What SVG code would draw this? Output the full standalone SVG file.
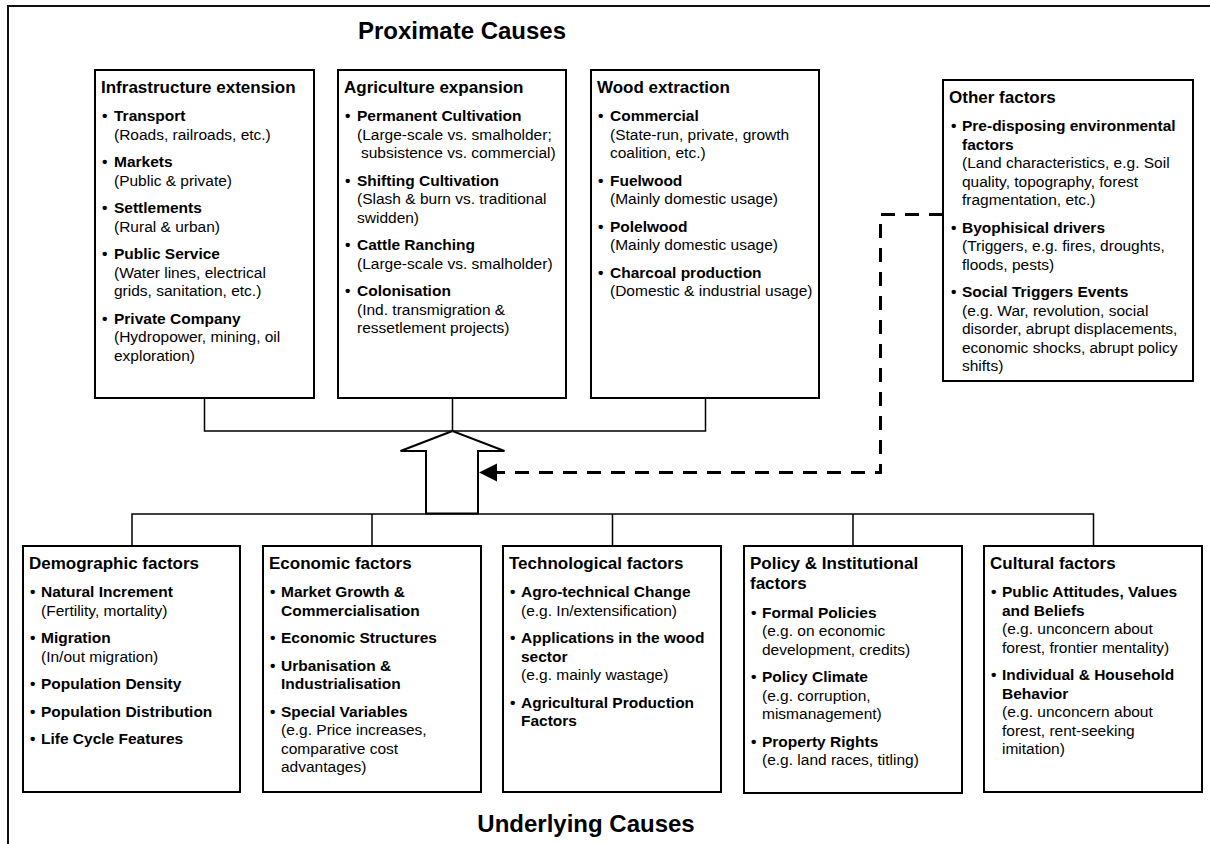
<svg xmlns="http://www.w3.org/2000/svg" width="1210" height="844" viewBox="0 0 1210 844">
<style>
text{font-family:"Liberation Sans",Arial,sans-serif;fill:#000}
.h{font-size:24px;font-weight:bold;text-anchor:middle}
.t{font-size:17px;font-weight:bold}
.b{font-size:15.5px;font-weight:bold}
.r{font-size:15.5px}
.box{fill:#fff;stroke:#000;stroke-width:2}
.ln{fill:none;stroke:#000;stroke-width:1.5}
.frame{fill:none;stroke:#111;stroke-width:2}
.dash{fill:none;stroke:#000;stroke-width:3;stroke-dasharray:14 10}
</style>
<rect width="1210" height="844" fill="#fff"/>
<g id="frame">
<path class="frame" d="M8 844 V6 H1210"/>
</g>
<g id="titles">
<text class="h" x="462" y="39">Proximate Causes</text>
<text class="h" x="586" y="832">Underlying Causes</text>
</g>
<g id="connectors">
<path class="ln" d="M204.5 398 V431 H705.5 V398 M452.5 398 V431"/>
<path class="ln" d="M132 546 V514 H1093.5 V546 M372 514 V546 M612.5 514 V546 M853 514 V546"/>
<polygon points="452.5,431 400.5,451 426,451 426,513.5 478,513.5 478,451 504.5,451" fill="#fff" stroke="#000" stroke-width="2"/>
<path class="dash" d="M943 214.5 H880.5 V472.5 H497"/>
<polygon points="479,472.5 497,463.5 497,481.5" fill="#000"/>
</g>
<g id="infrastructure">
<rect class="box" x="95" y="70" width="219" height="328"/>
<text class="t" x="101" y="93">Infrastructure extension</text>
<text class="b" x="102" y="121">•</text><text class="b" x="114" y="121">Transport</text>
<text class="r" x="114" y="139.5">(Roads, railroads, etc.)</text>
<text class="b" x="102" y="167">•</text><text class="b" x="114" y="167">Markets</text>
<text class="r" x="114" y="185.5">(Public &amp; private)</text>
<text class="b" x="102" y="213">•</text><text class="b" x="114" y="213">Settlements</text>
<text class="r" x="114" y="231.5">(Rural &amp; urban)</text>
<text class="b" x="102" y="259">•</text><text class="b" x="114" y="259">Public Service</text>
<text class="r" x="114" y="277.5">(Water lines, electrical</text>
<text class="r" x="114" y="296">grids, sanitation, etc.)</text>
<text class="b" x="102" y="323.5">•</text><text class="b" x="114" y="323.5">Private Company</text>
<text class="r" x="114" y="342">(Hydropower, mining, oil</text>
<text class="r" x="114" y="360.5">exploration)</text>
</g>
<g id="agriculture">
<rect class="box" x="338" y="70" width="228" height="328"/>
<text class="t" x="344" y="93">Agriculture expansion</text>
<text class="b" x="345" y="121">•</text><text class="b" x="357" y="121">Permanent Cultivation</text>
<text class="r" x="357" y="139.5">(Large-scale vs. smalholder;</text>
<text class="r" x="361" y="158">subsistence vs. commercial)</text>
<text class="b" x="345" y="185.5">•</text><text class="b" x="357" y="185.5">Shifting Cultivation</text>
<text class="r" x="357" y="204">(Slash &amp; burn vs. traditional</text>
<text class="r" x="357" y="222.5">swidden)</text>
<text class="b" x="345" y="250">•</text><text class="b" x="357" y="250">Cattle Ranching</text>
<text class="r" x="357" y="268.5">(Large-scale vs. smalholder)</text>
<text class="b" x="345" y="296">•</text><text class="b" x="357" y="296">Colonisation</text>
<text class="r" x="357" y="314.5">(Ind. transmigration &amp;</text>
<text class="r" x="357" y="333">ressetlement projects)</text>
</g>
<g id="wood">
<rect class="box" x="591" y="70" width="228" height="328"/>
<text class="t" x="597" y="93">Wood extraction</text>
<text class="b" x="598" y="121">•</text><text class="b" x="610" y="121">Commercial</text>
<text class="r" x="610" y="139.5">(State-run, private, growth</text>
<text class="r" x="610" y="158">coalition, etc.)</text>
<text class="b" x="598" y="185.5">•</text><text class="b" x="610" y="185.5">Fuelwood</text>
<text class="r" x="610" y="204">(Mainly domestic usage)</text>
<text class="b" x="598" y="231.5">•</text><text class="b" x="610" y="231.5">Polelwood</text>
<text class="r" x="610" y="250">(Mainly domestic usage)</text>
<text class="b" x="598" y="277.5">•</text><text class="b" x="610" y="277.5">Charcoal production</text>
<text class="r" x="610" y="296">(Domestic &amp; industrial usage)</text>
</g>
<g id="other">
<rect class="box" x="943" y="80" width="250" height="301"/>
<text class="t" x="949" y="103">Other factors</text>
<text class="b" x="951" y="131">•</text><text class="b" x="962" y="131">Pre-disposing environmental</text>
<text class="b" x="962" y="149.5">factors</text>
<text class="r" x="962" y="168">(Land characteristics, e.g. Soil</text>
<text class="r" x="962" y="186.5">quality, topography, forest</text>
<text class="r" x="962" y="205">fragmentation, etc.)</text>
<text class="b" x="951" y="232.5">•</text><text class="b" x="962" y="232.5">Byophisical drivers</text>
<text class="r" x="962" y="251">(Triggers, e.g. fires, droughts,</text>
<text class="r" x="962" y="269.5">floods, pests)</text>
<text class="b" x="951" y="297">•</text><text class="b" x="962" y="297">Social Triggers Events</text>
<text class="r" x="962" y="315.5">(e.g. War, revolution, social</text>
<text class="r" x="962" y="334">disorder, abrupt displacements,</text>
<text class="r" x="962" y="352.5">economic shocks, abrupt policy</text>
<text class="r" x="962" y="371">shifts)</text>
</g>
<g id="demographic">
<rect class="box" x="23" y="546" width="217" height="246"/>
<text class="t" x="29" y="568.5">Demographic factors</text>
<text class="b" x="30" y="597">•</text><text class="b" x="41" y="597">Natural Increment</text>
<text class="r" x="41" y="615.5">(Fertility, mortality)</text>
<text class="b" x="30" y="643">•</text><text class="b" x="41" y="643">Migration</text>
<text class="r" x="41" y="661.5">(In/out migration)</text>
<text class="b" x="30" y="689">•</text><text class="b" x="41" y="689">Population Density</text>
<text class="b" x="30" y="716.5">•</text><text class="b" x="41" y="716.5">Population Distribution</text>
<text class="b" x="30" y="744">•</text><text class="b" x="41" y="744">Life Cycle Features</text>
</g>
<g id="economic">
<rect class="box" x="263" y="546" width="218" height="246"/>
<text class="t" x="269" y="568.5">Economic factors</text>
<text class="b" x="270" y="597">•</text><text class="b" x="281" y="597">Market Growth &amp;</text>
<text class="b" x="281" y="615.5">Commercialisation</text>
<text class="b" x="270" y="643">•</text><text class="b" x="281" y="643">Economic Structures</text>
<text class="b" x="270" y="670.5">•</text><text class="b" x="281" y="670.5">Urbanisation &amp;</text>
<text class="b" x="281" y="689">Industrialisation</text>
<text class="b" x="270" y="716.5">•</text><text class="b" x="281" y="716.5">Special Variables</text>
<text class="r" x="281" y="735">(e.g. Price increases,</text>
<text class="r" x="281" y="753.5">comparative cost</text>
<text class="r" x="281" y="772">advantages)</text>
</g>
<g id="technological">
<rect class="box" x="503" y="546" width="218" height="246"/>
<text class="t" x="509" y="568.5">Technological factors</text>
<text class="b" x="510" y="597">•</text><text class="b" x="521" y="597">Agro-technical Change</text>
<text class="r" x="521" y="615.5">(e.g. In/extensification)</text>
<text class="b" x="510" y="643">•</text><text class="b" x="521" y="643">Applications in the wood</text>
<text class="b" x="521" y="661.5">sector</text>
<text class="r" x="521" y="680">(e.g. mainly wastage)</text>
<text class="b" x="510" y="707.5">•</text><text class="b" x="521" y="707.5">Agricultural Production</text>
<text class="b" x="521" y="726">Factors</text>
</g>
<g id="policy">
<rect class="box" x="744" y="546" width="218" height="247"/>
<text class="t" x="750" y="568.5">Policy &amp; Institutional</text>
<text class="t" x="750" y="589">factors</text>
<text class="b" x="751" y="617.5">•</text><text class="b" x="762" y="617.5">Formal Policies</text>
<text class="r" x="762" y="636">(e.g. on economic</text>
<text class="r" x="762" y="654.5">development, credits)</text>
<text class="b" x="751" y="682">•</text><text class="b" x="762" y="682">Policy Climate</text>
<text class="r" x="762" y="700.5">(e.g. corruption,</text>
<text class="r" x="762" y="719">mismanagement)</text>
<text class="b" x="751" y="746.5">•</text><text class="b" x="762" y="746.5">Property Rights</text>
<text class="r" x="762" y="765">(e.g. land races, titling)</text>
</g>
<g id="cultural">
<rect class="box" x="984" y="546" width="218" height="246"/>
<text class="t" x="990" y="568.5">Cultural factors</text>
<text class="b" x="991" y="597">•</text><text class="b" x="1002" y="597">Public Attitudes, Values</text>
<text class="b" x="1002" y="615.5">and Beliefs</text>
<text class="r" x="1002" y="634">(e.g. unconcern about</text>
<text class="r" x="1002" y="652.5">forest, frontier mentality)</text>
<text class="b" x="991" y="680">•</text><text class="b" x="1002" y="680">Individual &amp; Household</text>
<text class="b" x="1002" y="698.5">Behavior</text>
<text class="r" x="1002" y="717">(e.g. unconcern about</text>
<text class="r" x="1002" y="735.5">forest, rent-seeking</text>
<text class="r" x="1002" y="754">imitation)</text>
</g>
</svg>
